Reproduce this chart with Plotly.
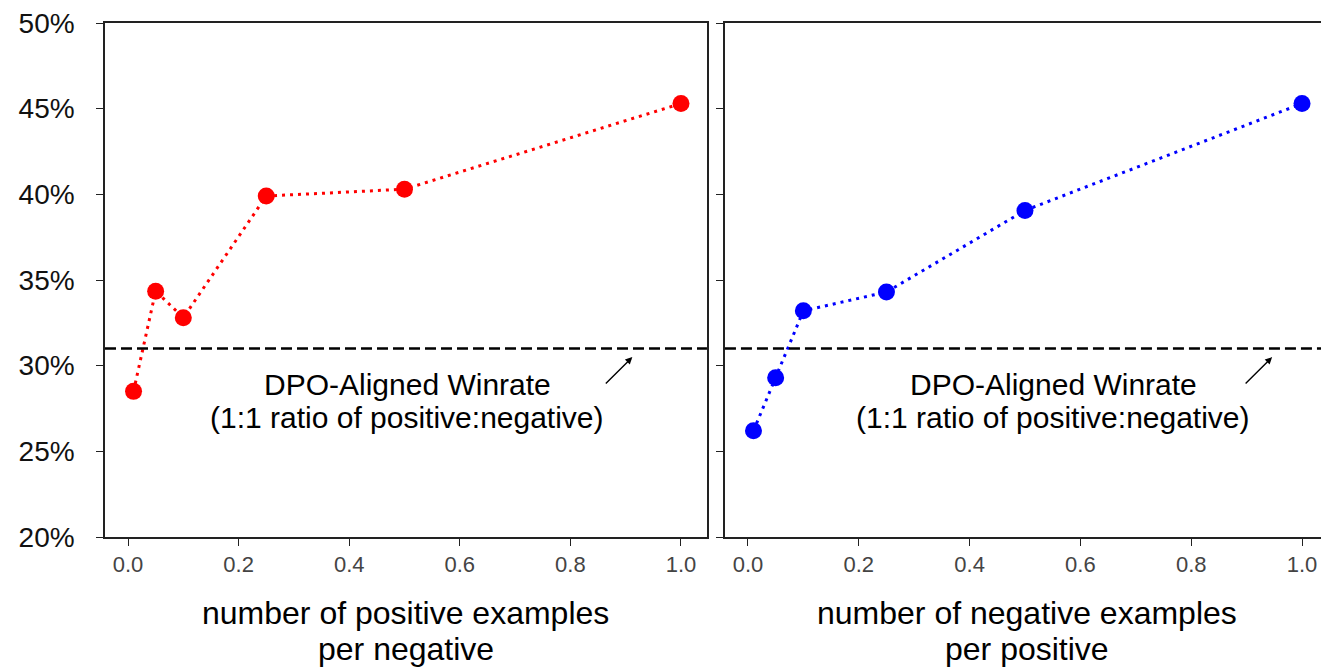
import plotly.graph_objects as go

# ---- data ----
ratios_pos = [0.01, 0.05, 0.1, 0.25, 0.5, 1.0]
winrate_pos = [28.5, 34.35, 32.8, 39.9, 40.3, 45.3]

ratios_neg = [0.01, 0.05, 0.1, 0.25, 0.5, 1.0]
winrate_neg = [26.2, 29.3, 33.2, 34.3, 39.06, 45.3]

dpo_baseline = 31.0

x_ticks = [0.0, 0.2, 0.4, 0.6, 0.8, 1.0]
x_tick_labels = ["0.0", "0.2", "0.4", "0.6", "0.8", "1.0"]
y_ticks = [20, 25, 30, 35, 40, 45, 50]
y_tick_labels = ["20%", "25%", "30%", "35%", "40%", "45%", "50%"]

xlabel_left = ["number of positive examples", "per negative"]
xlabel_right = ["number of negative examples", "per positive"]
baseline_label = ["DPO-Aligned Winrate", "(1:1 ratio of positive:negative)"]

FONT = "Liberation Sans, Arial, sans-serif"

fig = go.Figure()

fig.add_trace(go.Scatter(
    x=ratios_pos, y=winrate_pos, mode="lines+markers",
    line=dict(color="#ff0000", width=3, dash="3px,5px"),
    marker=dict(color="#ff0000", size=17),
    xaxis="x", yaxis="y", showlegend=False,
))
fig.add_trace(go.Scatter(
    x=ratios_neg, y=winrate_neg, mode="lines+markers",
    line=dict(color="#0000ff", width=3, dash="3px,5px"),
    marker=dict(color="#0000ff", size=17),
    xaxis="x2", yaxis="y2", showlegend=False,
))

common_x = dict(
    tickvals=x_ticks, ticktext=x_tick_labels,
    ticks="outside", ticklen=7, tickwidth=1.2, tickcolor="#222",
    tickfont=dict(family=FONT, size=22, color="#444"),
    showline=True, linecolor="#222", linewidth=1.5,
    showgrid=False, zeroline=False,
)
common_y = dict(
    range=[20, 50], tickvals=y_ticks, ticktext=y_tick_labels,
    ticks="outside", ticklen=7, tickwidth=1.2, tickcolor="#222",
    showline=True, linecolor="#222", linewidth=1.5,
    showgrid=False, zeroline=False,
)

# page body has an 8px margin; figure is sized so the plot lands where the reference has it
fig.update_layout(
    width=1321, height=663,
    margin=dict(l=97, r=0, t=13, b=134),
    paper_bgcolor="white", plot_bgcolor="white",
    xaxis=dict(domain=[0, 0.4918], range=[-0.0416, 1.047], mirror=True,
               anchor="y", **common_x),
    yaxis=dict(domain=[0, 1], anchor="x", mirror=True,
               tickfont=dict(family=FONT, size=28, color="#111"),
               ticklabelstandoff=16, ticklabeloverflow="allow", **common_y),
    xaxis2=dict(domain=[0.5065, 1], range=[-0.0415, 1.0487], mirror=True,
                anchor="y2", **common_x),
    yaxis2=dict(domain=[0, 1], anchor="x2", showticklabels=False, **common_y),
)

# baseline dashed lines
for xr, yr in (("x", "y"), ("x2", "y2")):
    fig.add_shape(type="line", xref=f"{xr} domain", yref=yr,
                  x0=0, x1=1, y0=dpo_baseline, y1=dpo_baseline,
                  line=dict(color="black", width=2.5, dash="11px,5px"))

# baseline labels and arrows
for xr, yr, tx, hx in (("x", "y", 0.505, 0.912), ("x2", "y2", 0.551, 0.946)):
    for line_text, ty in zip(baseline_label, (28.9, 26.95)):
        fig.add_annotation(xref=xr, yref=yr, x=tx, y=ty, text=line_text,
                           showarrow=False, align="center", yanchor="middle",
                           font=dict(family=FONT, size=30, color="black"))
    fig.add_annotation(xref=xr, yref=yr, x=hx, y=30.5, text="",
                       showarrow=True, arrowhead=2, arrowsize=1,
                       arrowwidth=1.4, arrowcolor="black", ax=-28, ay=28)

# x axis titles
for xr, lab in (("x domain", xlabel_left), ("x2 domain", xlabel_right)):
    for line_text, shift in zip(lab, (-76, -112)):
        fig.add_annotation(xref=xr, yref="paper", x=0.5, y=0, yanchor="middle",
                           yshift=shift, text=line_text, showarrow=False,
                           align="center",
                           font=dict(family=FONT, size=32, color="black"))

fig.write_html("out.html")
